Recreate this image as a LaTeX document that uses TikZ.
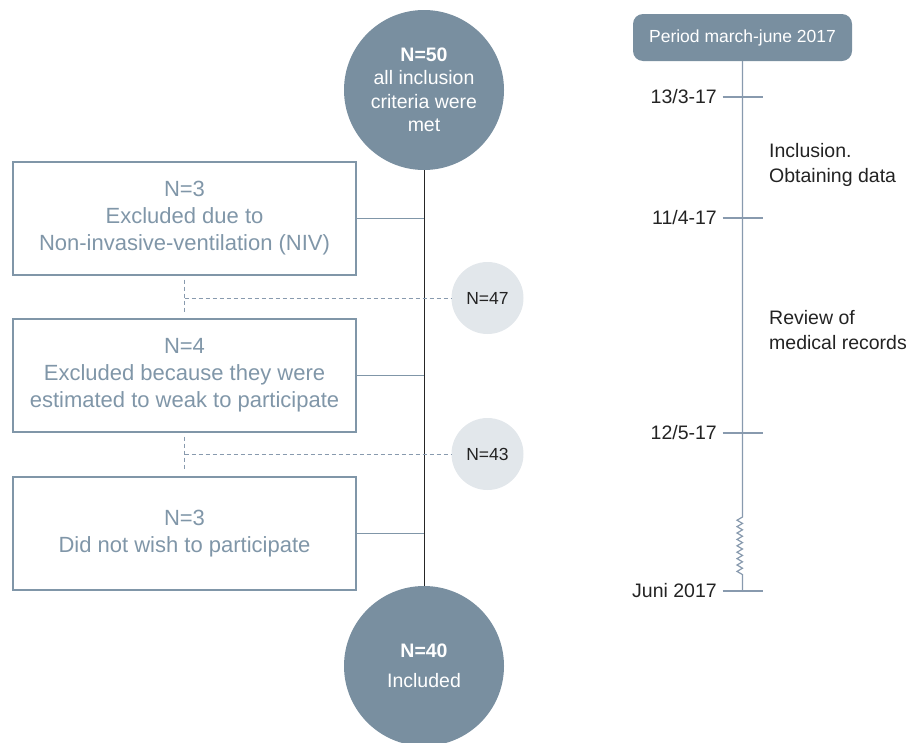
\documentclass[tikz,border=0pt]{standalone}
\usepackage{fontspec}
\setsansfont{Liberation Sans}
\usepackage{tikz}
\usetikzlibrary{positioning,calc}
\definecolor{slateblue}{RGB}{121,143,160}
\definecolor{boxgrey}{RGB}{128,150,168}
\definecolor{palegrey}{RGB}{226,231,235}
\definecolor{lineblue}{RGB}{136,154,174}
\definecolor{inkgrey}{RGB}{35,35,35}

\begin{document}
\begin{tikzpicture}[
        x=1pt, y=-1pt,
        font=\sffamily,
        bigcirc/.style={circle, fill=slateblue, text=white, align=center, inner sep=0pt, minimum size=160pt,
            font=\sffamily\fontsize{19.5}{23.5}\selectfont},
        smallcirc/.style={circle, fill=palegrey, text=inkgrey, inner sep=0pt, minimum size=72pt,
            font=\sffamily\fontsize{17.5}{21}\selectfont},
        exbox/.style={rectangle, draw=boxgrey, line width=1.4pt, text=boxgrey, align=center,
            minimum width=343pt, minimum height=113pt, font=\sffamily\fontsize{22}{27}\selectfont},
        period/.style={rectangle, rounded corners=10pt, fill=slateblue, text=white,
            minimum width=219pt, minimum height=47pt, font=\sffamily\fontsize{17.5}{21}\selectfont},
        datelbl/.style={text=inkgrey, inner sep=0pt, font=\sffamily\fontsize{19.5}{24.5}\selectfont},
        mainline/.style={draw=black!85, line width=0.8pt},
        link/.style={draw=boxgrey, line width=1.3pt},
        dotline/.style={draw=lineblue, line width=0.9pt, dash pattern=on 4pt off 3pt},
        tline/.style={draw=lineblue, line width=1.2pt}
    ]
        \useasboundingbox (0,0) rectangle (910,742);

        % flow chart
        \node[bigcirc] (top) at (424,90) {\textbf{N=50}\\all inclusion\\criteria were\\met};
        \node[bigcirc] (bot) at (424,666) {\textbf{N=40}\\[6.5pt]Included};

        \node[exbox] (b1) at (184.5,218.5) {N=3\\Excluded due to\\Non-invasive-ventilation (NIV)};
        \node[exbox] (b2) at (184.5,375.5) {N=4\\Excluded because they were\\estimated to weak to participate};
        \node[exbox] (b3) at (184.5,533.5) {N=3\\Did not wish to participate};

        \node[smallcirc] (n47) at (487.5,298) {N=47};
        \node[smallcirc] (n43) at (487.5,454) {N=43};

        \draw[mainline] (top) -- (bot);
        \draw[link] (b1.east) -- (b1.east -| top.south);
        \draw[link] (b2.east) -- (b2.east -| top.south);
        \draw[link] (b3.east) -- (b3.east -| top.south);

        \draw[dotline, shorten <=4pt, shorten >=6pt] (b1.south) -- (b2.north);
        \draw[dotline] (b1.south |- n47.west) -- (n47.west);
        \draw[dotline, shorten <=4pt, shorten >=6pt] (b2.south) -- (b3.north);
        \draw[dotline] (b2.south |- n43.west) -- (n43.west);

        % time line
        \node[period] (per) at (742.5,37.5) {Period march-june 2017};
        \coordinate (t1) at (742.5,97);
        \coordinate (t2) at (742.5,218);
        \coordinate (t3) at (742.5,433);
        \coordinate (zz) at (742.5,517);
        \coordinate (t4) at (742.5,591);

        \draw[tline] (per.south) -- (zz)
            \foreach \k in {1,...,9} { -- ++(-5.5,3.2) -- ++(5.5,3.2) } -- (t4);
        \foreach \t in {t1,t2,t3,t4}
            \draw[tline] ([xshift=-20pt]\t) -- ([xshift=20pt]\t);

        \node[datelbl, anchor=east] (d1) at (717,97) {13/3-17};
        \node[datelbl, anchor=east] (d2) at (717,218) {11/4-17};
        \node[datelbl, anchor=east] (d3) at (717,433) {12/5-17};
        \node[datelbl, anchor=east] (d4) at (717,591) {Juni 2017};

        \node[datelbl, anchor=west, align=left] (s1) at (769,165) {Inclusion.\\Obtaining data};
        \node[datelbl, anchor=west, align=left] (s2) at (769,330) {Review of\\medical records};
    \end{tikzpicture}
\end{document}
